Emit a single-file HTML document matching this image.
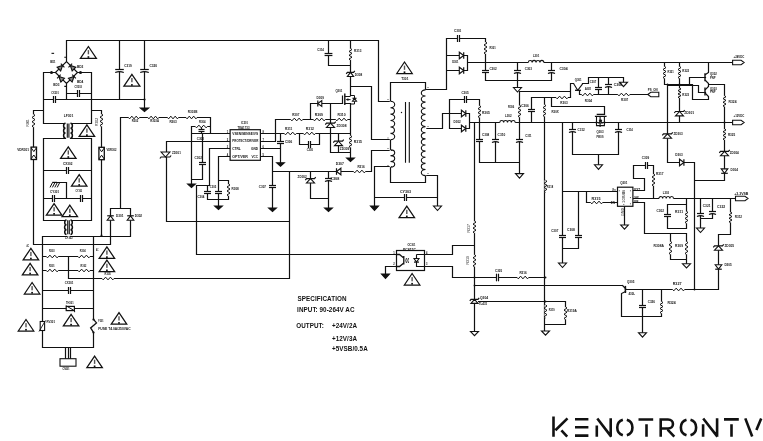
<!DOCTYPE html>
<html><head><meta charset="utf-8"><style>
html,body{margin:0;padding:0;background:#fff;}
#wrap{position:relative;width:763px;height:441px;overflow:hidden;}
svg{display:block;position:absolute;left:0;top:0;}
#tx{will-change:transform;}
text{font-family:"Liberation Sans",sans-serif;fill:#111;}
</style></head><body><div id="wrap">
<svg width="763" height="441" viewBox="0 0 763 441">
<rect width="763" height="441" fill="#fff"/>
<path d="M66.5 61.5 L66.5 40.5 L378.5 40.5 L378.5 101.5 L391.5 101.5 M55.5 72.5 L66.5 61.5 L77.5 72.5 L66.5 83.5 L55.5 72.5 M43.5 72.5 L55.5 72.5 M77.5 72.5 L91.5 72.5 M66.5 83.5 L66.5 99.5 M43.5 72.5 L43.5 123.5 M91.5 72.5 L91.5 123.5 M66.5 93.5 L91.5 93.5 M43.5 99.5 L144.5 99.5 M119.5 40.5 L119.5 99.5 M144.5 40.5 L144.5 108.5 M43.5 123.5 L65.5 123.5 M70.5 123.5 L91.5 123.5 M43.5 138.5 L65.5 138.5 M70.5 138.5 L91.5 138.5 M43.5 110.5 L33.5 110.5 L33.5 244.5 L110.5 244.5 L110.5 208.5 M91.5 110.5 L101.5 110.5 L101.5 236.5 M43.5 138.5 L43.5 220.5 M91.5 138.5 L91.5 220.5 M43.5 220.5 L66.5 220.5 M70.5 220.5 L91.5 220.5 M43.5 170.5 L91.5 170.5 M43.5 198.5 L91.5 198.5 M66.5 198.5 L66.5 182.5 L57.5 182.5 M42.5 236.5 L66.5 236.5 M70.5 236.5 L130.5 236.5 M130.5 208.5 L130.5 236.5 M110.5 208.5 L130.5 208.5 M120.5 117.5 L120.5 208.5 M42.5 236.5 L42.5 347.5 M93.5 236.5 L93.5 347.5 M42.5 256.5 L93.5 256.5 M42.5 270.5 L93.5 270.5 M68.5 256.5 L68.5 278.5 L289.5 278.5 L289.5 171.5 M42.5 290.5 L93.5 290.5 M42.5 308.5 L93.5 308.5 M42.5 347.5 L93.5 347.5 M65.5 347.5 L65.5 358.5 M68.5 347.5 L68.5 358.5 M70.5 347.5 L70.5 358.5 M120.5 117.5 L210.5 117.5 M210.5 117.5 L210.5 133.5 M191.5 126.5 L210.5 126.5 M191.5 126.5 L191.5 184.5 M191.5 179.5 L202.5 179.5 M202.5 133.5 L202.5 179.5 M201.5 126.5 L201.5 133.5 M191.5 133.5 L230.5 133.5 M166.5 141.5 L230.5 141.5 M166.5 141.5 L166.5 221.5 L289.5 221.5 M230.5 148.5 L209.5 148.5 L209.5 185.5 L196.5 185.5 L196.5 254.5 L396.5 254.5 M207.5 185.5 L207.5 199.5 M207.5 199.5 L228.5 199.5 M230.5 156.5 L218.5 156.5 L218.5 206.5 M218.5 180.5 L228.5 180.5 M228.5 180.5 L228.5 199.5 M260.5 133.5 L350.5 133.5 M260.5 141.5 L275.5 141.5 L275.5 119.5 L350.5 119.5 M260.5 148.5 L280.5 148.5 M280.5 133.5 L280.5 162.5 M260.5 156.5 L272.5 156.5 L272.5 208.5 M299.5 133.5 L299.5 144.5 L319.5 144.5 L319.5 133.5 M310.5 119.5 L310.5 103.5 L342.5 103.5 M330.5 103.5 L330.5 152.5 M338.5 133.5 L338.5 152.5 M330.5 152.5 L350.5 152.5 M350.5 103.5 L350.5 158.5 M350.5 40.5 L350.5 95.5 M328.5 40.5 L328.5 65.5 L350.5 65.5 M350.5 86.5 L371.5 86.5 L371.5 139.5 L391.5 139.5 M391.5 150.5 L371.5 150.5 L371.5 171.5 L272.5 171.5 M391.5 166.5 L374.5 166.5 L374.5 206.5 M310.5 171.5 L310.5 198.5 M310.5 198.5 L328.5 198.5 M328.5 171.5 L328.5 208.5 M374.5 197.5 L437.5 197.5 M424.5 175.5 L437.5 175.5 L437.5 206.5 M390.5 101.5 L390.5 82.5 L425.5 82.5 L425.5 89.5 M390.5 139.5 L390.5 150.5 M390.5 167.5 L390.5 182.5 L425.5 182.5 L425.5 175.5 M425.5 89.5 L446.5 89.5 L446.5 38.5 L485.5 38.5 L485.5 79.5 M425.5 128.5 L442.5 128.5 L442.5 113.5 L449.5 113.5 M446.5 55.5 L467.5 55.5 M446.5 70.5 L467.5 70.5 M467.5 55.5 L467.5 70.5 M467.5 62.5 L732.5 62.5 M517.5 62.5 L517.5 87.5 M551.5 62.5 L551.5 80.5 M485.5 80.5 L551.5 80.5 M449.5 99.5 L449.5 128.5 M449.5 99.5 L479.5 99.5 M449.5 128.5 L469.5 128.5 M449.5 113.5 L469.5 113.5 M469.5 113.5 L469.5 128.5 M469.5 122.5 L732.5 122.5 M479.5 99.5 L479.5 162.5 M474.5 122.5 L474.5 331.5 M495.5 122.5 L495.5 162.5 M519.5 91.5 L519.5 173.5 M479.5 162.5 L519.5 162.5 M519.5 91.5 L570.5 91.5 M570.5 97.5 L570.5 83.5 L573.5 83.5 M531.5 97.5 L570.5 97.5 M531.5 97.5 L531.5 122.5 M544.5 97.5 L544.5 331.5 M551.5 97.5 L551.5 106.5 L604.5 106.5 L604.5 114.5 M582.5 83.5 L588.5 83.5 L588.5 77.5 L623.5 77.5 L623.5 82.5 M598.5 77.5 L598.5 94.5 M608.5 77.5 L608.5 94.5 M579.5 90.5 L579.5 94.5 L647.5 94.5 M562.5 122.5 L562.5 248.5 M572.5 122.5 L572.5 154.5 M618.5 122.5 L618.5 154.5 M572.5 154.5 L618.5 154.5 M598.5 154.5 L598.5 164.5 M664.5 62.5 L664.5 84.5 M679.5 62.5 L679.5 122.5 M664.5 84.5 L692.5 84.5 M667.5 85.5 L698.5 85.5 M667.5 84.5 L667.5 162.5 M667.5 162.5 L694.5 162.5 M694.5 162.5 L694.5 289.5 M694.5 180.5 L724.5 180.5 M724.5 84.5 L724.5 180.5 M708.5 84.5 L724.5 84.5 M708.5 62.5 L708.5 72.5 L705.5 74.5 M705.5 80.5 L708.5 83.5 L708.5 84.5 M689.5 84.5 L689.5 77.5 L705.5 77.5 M705.5 89.5 L708.5 86.5 L708.5 84.5 M705.5 93.5 L708.5 96.5 L708.5 99.5 L692.5 99.5 L692.5 84.5 M698.5 85.5 L698.5 92.5 L705.5 92.5 M562.5 191.5 L617.5 191.5 M578.5 191.5 L578.5 248.5 M562.5 248.5 L578.5 248.5 M586.5 191.5 L586.5 202.5 L617.5 202.5 M624.5 206.5 L624.5 225.5 M632.5 190.5 L644.5 190.5 L644.5 178.5 L633.5 178.5 L633.5 165.5 L653.5 165.5 L653.5 198.5 M632.5 198.5 L735.5 198.5 M632.5 202.5 L644.5 202.5 L644.5 233.5 L686.5 233.5 M667.5 204.5 L667.5 228.5 M686.5 198.5 L686.5 228.5 M667.5 204.5 L686.5 204.5 M667.5 228.5 L686.5 228.5 M670.5 233.5 L670.5 259.5 M686.5 233.5 L686.5 263.5 M670.5 259.5 L686.5 259.5 M700.5 198.5 L700.5 228.5 M712.5 198.5 L712.5 218.5 M700.5 218.5 L712.5 218.5 M730.5 198.5 L730.5 234.5 L718.5 234.5 L718.5 289.5 M474.5 277.5 L545.5 277.5 M474.5 285.5 L622.5 285.5 M474.5 301.5 L565.5 301.5 L565.5 324.5 L545.5 324.5 M622.5 285.5 L625.5 288.5 M625.5 291.5 L621.5 293.5 L621.5 316.5 L661.5 316.5 L661.5 289.5 M625.5 289.5 L718.5 289.5 M642.5 289.5 L642.5 332.5 M424.5 254.5 L452.5 254.5 L452.5 245.5 L474.5 245.5 M424.5 266.5 L452.5 266.5 L452.5 277.5 L474.5 277.5 M396.5 266.5 L385.5 266.5 L385.5 274.5 M562.5 248.5 L562.5 263.5" fill="none" stroke="#111" stroke-width="1.2" stroke-linecap="square"/>
<path d="M405.5 102 V162.8 M409.3 102 V162.8" stroke="#111" stroke-width="1.1"/>
<path d="M705 73.3 V81.2 M705 87.5 V95.5" stroke="#111" stroke-width="1.4"/>
<rect x="617.5" y="187.2" width="15.4" height="19.1" fill="#fff" stroke="#111" stroke-width="1.2"/>
<path d="M625.4 285.9 V293" stroke="#111" stroke-width="1.5"/>
<rect x="396.5" y="250.5" width="28" height="20" fill="#fff" stroke="#111" stroke-width="1.2"/>
<g transform="translate(60.75 67.25) rotate(-43.99)"><polygon points="-2.6,-2.6 -2.6,2.6 2.6,0" fill="#888" stroke="#111" stroke-width="1.1"/><path d="M2.6 -2.6 V2.6" stroke="#111" stroke-width="1.1"/></g>
<g transform="translate(72.15 67.25) rotate(-135.51)"><polygon points="-2.6,-2.6 -2.6,2.6 2.6,0" fill="#888" stroke="#111" stroke-width="1.1"/><path d="M2.6 -2.6 V2.6" stroke="#111" stroke-width="1.1"/></g>
<g transform="translate(60.75 78.35) rotate(-136.01)"><polygon points="-2.6,-2.6 -2.6,2.6 2.6,0" fill="#888" stroke="#111" stroke-width="1.1"/><path d="M2.6 -2.6 V2.6" stroke="#111" stroke-width="1.1"/></g>
<g transform="translate(72.15 78.35) rotate(-44.49)"><polygon points="-2.6,-2.6 -2.6,2.6 2.6,0" fill="#888" stroke="#111" stroke-width="1.1"/><path d="M2.6 -2.6 V2.6" stroke="#111" stroke-width="1.1"/></g>
<circle cx="51.5" cy="72.5" r="1.5" fill="#111"/>
<circle cx="80.5" cy="72.5" r="1.5" fill="#111"/>
<path d="M64.3 57.2 H66.5 M64.3 86.4 H66.5" fill="none" stroke="#111" stroke-width="1.1"/>
<rect x="77.5" y="92.5" width="2" height="2" fill="#fff"/>
<path d="M77.5 90 V97" fill="none" stroke="#111" stroke-width="1.2"/>
<path d="M79.5 90 V97" fill="none" stroke="#111" stroke-width="1.2"/>
<rect x="53.5" y="98.5" width="2" height="2" fill="#fff"/>
<path d="M53.5 96 V103" fill="none" stroke="#111" stroke-width="1.2"/>
<path d="M55.5 96 V103" fill="none" stroke="#111" stroke-width="1.2"/>
<rect x="118.5" y="69.5" width="2" height="2" fill="#fff"/>
<path d="M115.2 69.5 H123.8" fill="none" stroke="#111" stroke-width="1.2"/>
<path d="M115.2 72.5 Q119.5 70.6 123.8 72.5" fill="none" stroke="#111" stroke-width="1.2"/>
<rect x="143.5" y="69.5" width="2" height="2" fill="#fff"/>
<path d="M140.2 69.5 H148.8" fill="none" stroke="#111" stroke-width="1.2"/>
<path d="M140.2 72.5 Q144.5 70.6 148.8 72.5" fill="none" stroke="#111" stroke-width="1.2"/>
<polygon points="140.35,108 148.65,108 144.5,111.6" fill="#111" stroke="#111" stroke-width="1.1"/>
<circle cx="144.5" cy="99.5" r="1.1" fill="#111"/>
<polygon points="88.4,46.5 80.4,58.3 96.4,58.3" fill="none" stroke="#111" stroke-width="1.25" stroke-linejoin="miter"/>
<rect x="87.7" y="50.1" width="1.4" height="4.2" fill="#555"/>
<rect x="87.55" y="56.2" width="1.7" height="1.7" fill="#111"/>
<polygon points="131.9,74.4 123.9,86.2 139.9,86.2" fill="none" stroke="#111" stroke-width="1.25" stroke-linejoin="miter"/>
<rect x="131.2" y="78" width="1.4" height="4.2" fill="#555"/>
<rect x="131.05" y="84.1" width="1.7" height="1.7" fill="#111"/>
<rect x="64.7" y="123.3" width="1.6" height="14.7" fill="#fff"/>
<path d="M65.5 123.3 A1.9 2.45 0 0 0 65.5 128.2 A1.9 2.45 0 0 0 65.5 133.1 A1.9 2.45 0 0 0 65.5 138" fill="none" stroke="#111" stroke-width="1.5"/>
<rect x="69.7" y="123.3" width="1.6" height="14.7" fill="#fff"/>
<path d="M70.5 123.3 A1.9 2.45 0 0 1 70.5 128.2 A1.9 2.45 0 0 1 70.5 133.1 A1.9 2.45 0 0 1 70.5 138" fill="none" stroke="#111" stroke-width="1.5"/>
<path d="M67.3 123.5 V137.8 M68.9 123.5 V137.8" stroke="#111" stroke-width="1.1"/>
<rect x="32.5" y="114.2" width="2" height="13" fill="#fff"/>
<path d="M33.5 114.2 L35 115.28 L32 117.45 L35 119.62 L32 121.78 L35 123.95 L32 126.12 L33.5 127.2" fill="none" stroke="#111" stroke-width="1"/>
<rect x="100.5" y="114.05" width="2" height="12.5" fill="#fff"/>
<path d="M101.5 114.05 L103 115.09 L100 117.17 L103 119.26 L100 121.34 L103 123.42 L100 125.51 L101.5 126.55" fill="none" stroke="#111" stroke-width="1"/>
<circle cx="101.5" cy="235.5" r="1" fill="#111"/>
<rect x="31.1" y="147.1" width="5.4" height="12.4" fill="#fff" stroke="#111" stroke-width="1.3"/>
<path d="M31.1 147.7 L33.8 151.6 L36.5 147.7 M31.1 158.9 L33.8 155 L36.5 158.9" fill="none" stroke="#111" stroke-width="1"/>
<rect x="98.9" y="147.3" width="5.4" height="12.4" fill="#fff" stroke="#111" stroke-width="1.3"/>
<path d="M98.9 147.9 L101.6 151.8 L104.3 147.9 M98.9 159.1 L101.6 155.2 L104.3 159.1" fill="none" stroke="#111" stroke-width="1"/>
<rect x="66.5" y="169.5" width="2" height="2" fill="#fff"/>
<path d="M66.5 167 V174" fill="none" stroke="#111" stroke-width="1.2"/>
<path d="M68.5 167 V174" fill="none" stroke="#111" stroke-width="1.2"/>
<rect x="52.5" y="197.5" width="2" height="2" fill="#fff"/>
<path d="M52.5 195 V202" fill="none" stroke="#111" stroke-width="1.2"/>
<path d="M54.5 195 V202" fill="none" stroke="#111" stroke-width="1.2"/>
<rect x="80.5" y="197.5" width="2" height="2" fill="#fff"/>
<path d="M80.5 195 V202" fill="none" stroke="#111" stroke-width="1.2"/>
<path d="M82.5 195 V202" fill="none" stroke="#111" stroke-width="1.2"/>
<path d="M52.3 182.4 H57" fill="none" stroke="#111" stroke-width="1.2"/>
<path d="M52.6 182.4 L50 187.4" fill="none" stroke="#111" stroke-width="1"/>
<path d="M55 182.4 L52.4 187.4" fill="none" stroke="#111" stroke-width="1"/>
<path d="M57.4 182.4 L54.8 187.4" fill="none" stroke="#111" stroke-width="1"/>
<path d="M59.8 182.4 L57.2 187.4" fill="none" stroke="#111" stroke-width="1"/>
<polygon points="68.3,146.8 60.55,158.3 76.05,158.3" fill="none" stroke="#111" stroke-width="1.25" stroke-linejoin="miter"/>
<rect x="67.6" y="150.4" width="1.4" height="4.2" fill="#555"/>
<rect x="67.45" y="156.2" width="1.7" height="1.7" fill="#111"/>
<polygon points="86.9,124.9 79.15,136.4 94.65,136.4" fill="none" stroke="#111" stroke-width="1.25" stroke-linejoin="miter"/>
<rect x="86.2" y="128.5" width="1.4" height="4.2" fill="#555"/>
<rect x="86.05" y="134.3" width="1.7" height="1.7" fill="#111"/>
<polygon points="79.2,174.7 71.45,186.2 86.95,186.2" fill="none" stroke="#111" stroke-width="1.25" stroke-linejoin="miter"/>
<rect x="78.5" y="178.3" width="1.4" height="4.2" fill="#555"/>
<rect x="78.35" y="184.1" width="1.7" height="1.7" fill="#111"/>
<polygon points="54.1,203.6 46.35,215.1 61.85,215.1" fill="none" stroke="#111" stroke-width="1.25" stroke-linejoin="miter"/>
<rect x="53.4" y="207.2" width="1.4" height="4.2" fill="#555"/>
<rect x="53.25" y="213" width="1.7" height="1.7" fill="#111"/>
<polygon points="69.8,205.1 62.05,216.6 77.55,216.6" fill="none" stroke="#111" stroke-width="1.25" stroke-linejoin="miter"/>
<rect x="69.1" y="208.7" width="1.4" height="4.2" fill="#555"/>
<rect x="68.95" y="214.5" width="1.7" height="1.7" fill="#111"/>
<rect x="65.7" y="220" width="1.6" height="14.5" fill="#fff"/>
<path d="M66.5 220 A1.9 2.42 0 0 0 66.5 224.83 A1.9 2.42 0 0 0 66.5 229.67 A1.9 2.42 0 0 0 66.5 234.5" fill="none" stroke="#111" stroke-width="1.5"/>
<rect x="69.7" y="220" width="1.6" height="14.5" fill="#fff"/>
<path d="M70.5 220 A1.9 2.42 0 0 1 70.5 224.83 A1.9 2.42 0 0 1 70.5 229.67 A1.9 2.42 0 0 1 70.5 234.5" fill="none" stroke="#111" stroke-width="1.5"/>
<path d="M67.7 220.3 V234.3 M69.3 220.3 V234.3" stroke="#111" stroke-width="1.1"/>
<rect x="107.2" y="215.8" width="6.6" height="4.4" fill="#fff"/>
<polygon points="107.2,220.2 113.8,220.2 110.5,215.8" fill="#fff" stroke="#111" stroke-width="1.1" stroke-linejoin="miter"/>
<path d="M107.2 215.8 L113.8 215.8" fill="none" stroke="#111" stroke-width="1.2"/>
<rect x="127.2" y="215.8" width="6.6" height="4.4" fill="#fff"/>
<polygon points="127.2,220.2 133.8,220.2 130.5,215.8" fill="#fff" stroke="#111" stroke-width="1.1" stroke-linejoin="miter"/>
<path d="M127.2 215.8 L133.8 215.8" fill="none" stroke="#111" stroke-width="1.2"/>
<rect x="46.3" y="255.5" width="12" height="2" fill="#fff"/>
<path d="M46.3 256.5 L47.5 257.85 L49.9 255.15 L52.3 257.85 L54.7 255.15 L57.1 257.85 L58.3 256.5" fill="none" stroke="#111" stroke-width="1"/>
<rect x="78" y="255.5" width="12" height="2" fill="#fff"/>
<path d="M78 256.5 L79.2 257.85 L81.6 255.15 L84 257.85 L86.4 255.15 L88.8 257.85 L90 256.5" fill="none" stroke="#111" stroke-width="1"/>
<rect x="46.3" y="269.5" width="12" height="2" fill="#fff"/>
<path d="M46.3 270.5 L47.5 271.85 L49.9 269.15 L52.3 271.85 L54.7 269.15 L57.1 271.85 L58.3 270.5" fill="none" stroke="#111" stroke-width="1"/>
<rect x="78" y="269.5" width="12" height="2" fill="#fff"/>
<path d="M78 270.5 L79.2 271.85 L81.6 269.15 L84 271.85 L86.4 269.15 L88.8 271.85 L90 270.5" fill="none" stroke="#111" stroke-width="1"/>
<rect x="102" y="277.5" width="12" height="2" fill="#fff"/>
<path d="M102 278.5 L103.2 279.85 L105.6 277.15 L108 279.85 L110.4 277.15 L112.8 279.85 L114 278.5" fill="none" stroke="#111" stroke-width="1"/>
<rect x="68.5" y="289.5" width="2" height="2" fill="#fff"/>
<path d="M68.5 287 V294" fill="none" stroke="#111" stroke-width="1.2"/>
<path d="M70.5 287 V294" fill="none" stroke="#111" stroke-width="1.2"/>
<rect x="66.2" y="306.4" width="8.2" height="4.2" fill="#fff" stroke="#111" stroke-width="1.2"/>
<path d="M65.8 305.6 L74.6 310.8 V312.2" fill="none" stroke="#111" stroke-width="1"/>
<rect x="40.2" y="321.5" width="4.4" height="9" fill="#fff" stroke="#111" stroke-width="1.1"/>
<path d="M39 331.5 L45.5 320.5" fill="none" stroke="#111" stroke-width="0.9"/>
<rect x="92.4" y="319.5" width="2.2" height="12.8" fill="#fff"/>
<path d="M93.5 319.4 L96.5 322.9 L90.6 327.9 L93.5 332.4" fill="none" stroke="#111" stroke-width="1.3"/>
<circle cx="93.5" cy="319.5" r="1.1" fill="#111"/>
<circle cx="93.5" cy="332.5" r="1.1" fill="#111"/>
<rect x="60" y="358.7" width="16" height="7.5" fill="#fff" stroke="#111" stroke-width="1.1"/>
<polygon points="30.9,248.3 23.15,259.8 38.65,259.8" fill="none" stroke="#111" stroke-width="1.25" stroke-linejoin="miter"/>
<rect x="30.2" y="251.9" width="1.4" height="4.2" fill="#555"/>
<rect x="30.05" y="257.7" width="1.7" height="1.7" fill="#111"/>
<polygon points="30.1,263.3 22.35,274.8 37.85,274.8" fill="none" stroke="#111" stroke-width="1.25" stroke-linejoin="miter"/>
<rect x="29.4" y="266.9" width="1.4" height="4.2" fill="#555"/>
<rect x="29.25" y="272.7" width="1.7" height="1.7" fill="#111"/>
<polygon points="32.1,282.5 24.35,294 39.85,294" fill="none" stroke="#111" stroke-width="1.25" stroke-linejoin="miter"/>
<rect x="31.4" y="286.1" width="1.4" height="4.2" fill="#555"/>
<rect x="31.25" y="291.9" width="1.7" height="1.7" fill="#111"/>
<polygon points="106.9,246.9 99.15,258.4 114.65,258.4" fill="none" stroke="#111" stroke-width="1.25" stroke-linejoin="miter"/>
<rect x="106.2" y="250.5" width="1.4" height="4.2" fill="#555"/>
<rect x="106.05" y="256.3" width="1.7" height="1.7" fill="#111"/>
<polygon points="106.9,260.1 99.15,271.6 114.65,271.6" fill="none" stroke="#111" stroke-width="1.25" stroke-linejoin="miter"/>
<rect x="106.2" y="263.7" width="1.4" height="4.2" fill="#555"/>
<rect x="106.05" y="269.5" width="1.7" height="1.7" fill="#111"/>
<polygon points="26,319.5 18.25,331 33.75,331" fill="none" stroke="#111" stroke-width="1.25" stroke-linejoin="miter"/>
<rect x="25.3" y="323.1" width="1.4" height="4.2" fill="#555"/>
<rect x="25.15" y="328.9" width="1.7" height="1.7" fill="#111"/>
<polygon points="71.1,314.4 63.35,325.9 78.85,325.9" fill="none" stroke="#111" stroke-width="1.25" stroke-linejoin="miter"/>
<rect x="70.4" y="318" width="1.4" height="4.2" fill="#555"/>
<rect x="70.25" y="323.8" width="1.7" height="1.7" fill="#111"/>
<polygon points="119,312.7 111.25,324.2 126.75,324.2" fill="none" stroke="#111" stroke-width="1.25" stroke-linejoin="miter"/>
<rect x="118.3" y="316.3" width="1.4" height="4.2" fill="#555"/>
<rect x="118.15" y="322.1" width="1.7" height="1.7" fill="#111"/>
<polygon points="94.6,356.1 86.85,367.6 102.35,367.6" fill="none" stroke="#111" stroke-width="1.25" stroke-linejoin="miter"/>
<rect x="93.9" y="359.7" width="1.4" height="4.2" fill="#555"/>
<rect x="93.75" y="365.5" width="1.7" height="1.7" fill="#111"/>
<rect x="128.5" y="116.5" width="11" height="2" fill="#fff"/>
<path d="M128.5 117.5 L129.6 118.85 L131.8 116.15 L134 118.85 L136.2 116.15 L138.4 118.85 L139.5 117.5" fill="none" stroke="#111" stroke-width="1"/>
<rect x="147.8" y="116.5" width="11" height="2" fill="#fff"/>
<path d="M147.8 117.5 L148.9 118.85 L151.1 116.15 L153.3 118.85 L155.5 116.15 L157.7 118.85 L158.8 117.5" fill="none" stroke="#111" stroke-width="1"/>
<rect x="167.5" y="116.5" width="11" height="2" fill="#fff"/>
<path d="M167.5 117.5 L168.6 118.85 L170.8 116.15 L173 118.85 L175.2 116.15 L177.4 118.85 L178.5 117.5" fill="none" stroke="#111" stroke-width="1"/>
<rect x="186" y="116.5" width="11" height="2" fill="#fff"/>
<path d="M186 117.5 L187.1 118.85 L189.3 116.15 L191.5 118.85 L193.7 116.15 L195.9 118.85 L197 117.5" fill="none" stroke="#111" stroke-width="1"/>
<rect x="195.3" y="125.5" width="12" height="2" fill="#fff"/>
<path d="M195.3 126.5 L196.5 127.85 L198.9 125.15 L201.3 127.85 L203.7 125.15 L206.1 127.85 L207.3 126.5" fill="none" stroke="#111" stroke-width="1"/>
<polygon points="187.65,184 195.35,184 191.5,187.5" fill="#111" stroke="#111" stroke-width="1.1"/>
<rect x="200.5" y="129.5" width="2" height="2" fill="#fff"/>
<path d="M198.5 129.5 H204.5" fill="none" stroke="#111" stroke-width="1.2"/>
<path d="M198.5 131.5 H204.5" fill="none" stroke="#111" stroke-width="1.2"/>
<rect x="201.5" y="162.5" width="2" height="2" fill="#fff"/>
<path d="M199 162.5 H206" fill="none" stroke="#111" stroke-width="1.2"/>
<path d="M199 164.5 H206" fill="none" stroke="#111" stroke-width="1.2"/>
<rect x="161.1" y="152" width="8.8" height="5" fill="#fff"/>
<polygon points="161.1,152 169.9,152 165.5,157" fill="#fff" stroke="#111" stroke-width="1.1" stroke-linejoin="miter"/>
<path d="M159.9 158.5 L161.1 157 L169.9 157 L171.1 155.5" fill="none" stroke="#111" stroke-width="1.2"/>
<rect x="206.5" y="191.5" width="2" height="2" fill="#fff"/>
<path d="M204 191.5 H211" fill="none" stroke="#111" stroke-width="1.2"/>
<path d="M204 193.5 H211" fill="none" stroke="#111" stroke-width="1.2"/>
<rect x="217.5" y="191.5" width="2" height="2" fill="#fff"/>
<path d="M215 191.5 H222" fill="none" stroke="#111" stroke-width="1.2"/>
<path d="M215 193.5 H222" fill="none" stroke="#111" stroke-width="1.2"/>
<polygon points="214.65,206 222.35,206 218.5,209.5" fill="#111" stroke="#111" stroke-width="1.1"/>
<rect x="227.5" y="184" width="2" height="12" fill="#fff"/>
<path d="M228.5 184 L230 185 L227 187 L230 189 L227 191 L230 193 L227 195 L228.5 196" fill="none" stroke="#111" stroke-width="1"/>
<rect x="230.1" y="129.7" width="30.3" height="30.6" fill="#fff" stroke="#111" stroke-width="1.2"/>
<rect x="284.3" y="132.5" width="12" height="2" fill="#fff"/>
<path d="M284.3 133.5 L285.5 134.85 L287.9 132.15 L290.3 134.85 L292.7 132.15 L295.1 134.85 L296.3 133.5" fill="none" stroke="#111" stroke-width="1"/>
<rect x="303.4" y="132.5" width="12" height="2" fill="#fff"/>
<path d="M303.4 133.5 L304.6 134.85 L307 132.15 L309.4 134.85 L311.8 132.15 L314.2 134.85 L315.4 133.5" fill="none" stroke="#111" stroke-width="1"/>
<rect x="308.5" y="143.5" width="2" height="2" fill="#fff"/>
<path d="M308.5 141 V148" fill="none" stroke="#111" stroke-width="1.2"/>
<path d="M310.5 141 V148" fill="none" stroke="#111" stroke-width="1.2"/>
<rect x="279.5" y="141.5" width="2" height="2" fill="#fff"/>
<path d="M277 141.5 H284" fill="none" stroke="#111" stroke-width="1.2"/>
<path d="M277 143.5 H284" fill="none" stroke="#111" stroke-width="1.2"/>
<polygon points="276.65,162.7 284.35,162.7 280.5,166.2" fill="#111" stroke="#111" stroke-width="1.1"/>
<rect x="271.5" y="185.5" width="2" height="2" fill="#fff"/>
<path d="M269 185.5 H276" fill="none" stroke="#111" stroke-width="1.2"/>
<path d="M269 187.5 H276" fill="none" stroke="#111" stroke-width="1.2"/>
<polygon points="268.65,208 276.35,208 272.5,211.5" fill="#111" stroke="#111" stroke-width="1.1"/>
<rect x="290.7" y="118.5" width="12" height="2" fill="#fff"/>
<path d="M290.7 119.5 L291.9 120.85 L294.3 118.15 L296.7 120.85 L299.1 118.15 L301.5 120.85 L302.7 119.5" fill="none" stroke="#111" stroke-width="1"/>
<rect x="313.3" y="118.5" width="12" height="2" fill="#fff"/>
<path d="M313.3 119.5 L314.5 120.85 L316.9 118.15 L319.3 120.85 L321.7 118.15 L324.1 120.85 L325.3 119.5" fill="none" stroke="#111" stroke-width="1"/>
<rect x="335.6" y="118.5" width="12" height="2" fill="#fff"/>
<path d="M335.6 119.5 L336.8 120.85 L339.2 118.15 L341.6 120.85 L344 118.15 L346.4 120.85 L347.6 119.5" fill="none" stroke="#111" stroke-width="1"/>
<rect x="317.8" y="100.6" width="4" height="5.8" fill="#fff"/>
<polygon points="321.8,100.6 321.8,106.4 317.8,103.5" fill="#fff" stroke="#111" stroke-width="1.1" stroke-linejoin="miter"/>
<path d="M317.8 100.6 L317.8 106.4" fill="none" stroke="#111" stroke-width="1.2"/>
<rect x="326.5" y="123.1" width="8" height="4.4" fill="#fff"/>
<polygon points="326.5,127.5 334.5,127.5 330.5,123.1" fill="#fff" stroke="#111" stroke-width="1.1" stroke-linejoin="miter"/>
<path d="M325.3 124.6 L326.5 123.1 L334.5 123.1 L335.7 121.6" fill="none" stroke="#111" stroke-width="1.2"/>
<rect x="334.5" y="141.2" width="8" height="4.4" fill="#fff"/>
<polygon points="334.5,145.6 342.5,145.6 338.5,141.2" fill="#fff" stroke="#111" stroke-width="1.1" stroke-linejoin="miter"/>
<path d="M333.3 142.7 L334.5 141.2 L342.5 141.2 L343.7 139.7" fill="none" stroke="#111" stroke-width="1.2"/>
<rect x="349.5" y="135.6" width="2" height="12" fill="#fff"/>
<path d="M350.5 135.6 L352 136.6 L349 138.6 L352 140.6 L349 142.6 L352 144.6 L349 146.6 L350.5 147.6" fill="none" stroke="#111" stroke-width="1"/>
<polygon points="346.65,158 354.35,158 350.5,161.5" fill="#111" stroke="#111" stroke-width="1.1"/>
<path d="M342.5 95.5 V103.5" fill="none" stroke="#111" stroke-width="1.2"/>
<path d="M344.8 93.6 V105" fill="none" stroke="#111" stroke-width="1.4"/>
<path d="M344.8 96.5 H350.5 M344.8 103.5 H350.5" fill="none" stroke="#111" stroke-width="1.2"/>
<polygon points="345.6,99.6 348.4,98.2 348.4,101" fill="#111"/>
<path d="M348 99.6 H350.5" fill="none" stroke="#111" stroke-width="1"/>
<path d="M350.5 95.5 H354.5 V104 H350.5" fill="none" stroke="#111" stroke-width="1"/>
<rect x="352.5" y="98.3" width="4" height="3" fill="#fff"/>
<polygon points="352.5,101.3 356.5,101.3 354.5,98.3" fill="#fff" stroke="#111" stroke-width="1.1" stroke-linejoin="miter"/>
<path d="M352.5 98.3 L356.5 98.3" fill="none" stroke="#111" stroke-width="1.2"/>
<rect x="349.5" y="48.55" width="2" height="11.5" fill="#fff"/>
<path d="M350.5 48.55 L352 49.51 L349 51.42 L352 53.34 L349 55.26 L352 57.17 L349 59.09 L350.5 60.05" fill="none" stroke="#111" stroke-width="1"/>
<rect x="347.4" y="72.3" width="6.2" height="4.2" fill="#fff"/>
<polygon points="347.4,76.5 353.6,76.5 350.5,72.3" fill="#fff" stroke="#111" stroke-width="1.1" stroke-linejoin="miter"/>
<path d="M346.2 73.8 L347.4 72.3 L353.6 72.3 L354.8 70.8" fill="none" stroke="#111" stroke-width="1.2"/>
<rect x="327.5" y="53.5" width="2" height="2" fill="#fff"/>
<path d="M324.6 53.5 H332.4" fill="none" stroke="#111" stroke-width="1.2"/>
<path d="M324.6 55.5 H332.4" fill="none" stroke="#111" stroke-width="1.2"/>
<rect x="336.5" y="168.2" width="4.4" height="6.6" fill="#fff"/>
<polygon points="340.9,168.2 340.9,174.8 336.5,171.5" fill="#fff" stroke="#111" stroke-width="1.1" stroke-linejoin="miter"/>
<path d="M336.5 168.2 L336.5 174.8" fill="none" stroke="#111" stroke-width="1.2"/>
<rect x="353.5" y="170.5" width="12" height="2" fill="#fff"/>
<path d="M353.5 171.5 L354.7 172.85 L357.1 170.15 L359.5 172.85 L361.9 170.15 L364.3 172.85 L365.5 171.5" fill="none" stroke="#111" stroke-width="1"/>
<rect x="306.5" y="178.6" width="8" height="4.4" fill="#fff"/>
<polygon points="306.5,183 314.5,183 310.5,178.6" fill="#fff" stroke="#111" stroke-width="1.1" stroke-linejoin="miter"/>
<path d="M305.3 180.1 L306.5 178.6 L314.5 178.6 L315.7 177.1" fill="none" stroke="#111" stroke-width="1.2"/>
<rect x="327.5" y="178.5" width="2" height="2" fill="#fff"/>
<path d="M325 178.5 H332" fill="none" stroke="#111" stroke-width="1.2"/>
<path d="M325 181.5 Q328.5 179.6 332 181.5" fill="none" stroke="#111" stroke-width="1.2"/>
<polygon points="324.65,208 332.35,208 328.5,211.5" fill="#111" stroke="#111" stroke-width="1.1"/>
<polygon points="370.5,206 378.5,206 374.5,210.5" fill="#111" stroke="#111" stroke-width="1.1"/>
<polygon points="433.5,206 441.5,206 437.5,210.5" fill="#fff" stroke="#111" stroke-width="1.1"/>
<rect x="404.5" y="196.5" width="2" height="2" fill="#fff"/>
<path d="M404.5 194 V201" fill="none" stroke="#111" stroke-width="1.2"/>
<path d="M406.5 194 V201" fill="none" stroke="#111" stroke-width="1.2"/>
<polygon points="406.8,206.2 399.05,217.7 414.55,217.7" fill="none" stroke="#111" stroke-width="1.25" stroke-linejoin="miter"/>
<rect x="406.1" y="209.8" width="1.4" height="4.2" fill="#555"/>
<rect x="405.95" y="215.6" width="1.7" height="1.7" fill="#111"/>
<polygon points="412.1,273.5 404.35,285 419.85,285" fill="none" stroke="#111" stroke-width="1.25" stroke-linejoin="miter"/>
<rect x="411.4" y="277.1" width="1.4" height="4.2" fill="#555"/>
<rect x="411.25" y="282.9" width="1.7" height="1.7" fill="#111"/>
<rect x="389.7" y="101.3" width="1.6" height="38.5" fill="#fff"/>
<path d="M390.5 101.3 A4.2 3.21 0 0 1 390.5 107.72 A4.2 3.21 0 0 1 390.5 114.13 A4.2 3.21 0 0 1 390.5 120.55 A4.2 3.21 0 0 1 390.5 126.97 A4.2 3.21 0 0 1 390.5 133.38 A4.2 3.21 0 0 1 390.5 139.8" fill="none" stroke="#111" stroke-width="1.1"/>
<rect x="389.7" y="149.9" width="1.6" height="17.3" fill="#fff"/>
<path d="M390.5 149.9 A4.2 2.88 0 0 1 390.5 155.67 A4.2 2.88 0 0 1 390.5 161.43 A4.2 2.88 0 0 1 390.5 167.2" fill="none" stroke="#111" stroke-width="1.1"/>
<rect x="424.7" y="89.9" width="1.6" height="85.7" fill="#fff"/>
<path d="M425.5 89.9 A4.2 3.06 0 0 0 425.5 96.02 A4.2 3.06 0 0 0 425.5 102.14 A4.2 3.06 0 0 0 425.5 108.26 A4.2 3.06 0 0 0 425.5 114.39 A4.2 3.06 0 0 0 425.5 120.51 A4.2 3.06 0 0 0 425.5 126.63 A4.2 3.06 0 0 0 425.5 132.75 A4.2 3.06 0 0 0 425.5 138.87 A4.2 3.06 0 0 0 425.5 144.99 A4.2 3.06 0 0 0 425.5 151.11 A4.2 3.06 0 0 0 425.5 157.24 A4.2 3.06 0 0 0 425.5 163.36 A4.2 3.06 0 0 0 425.5 169.48 A4.2 3.06 0 0 0 425.5 175.6" fill="none" stroke="#111" stroke-width="1.1"/>
<polygon points="404.5,62 396.75,73.5 412.25,73.5" fill="none" stroke="#111" stroke-width="1.25" stroke-linejoin="miter"/>
<rect x="403.8" y="65.6" width="1.4" height="4.2" fill="#555"/>
<rect x="403.65" y="71.4" width="1.7" height="1.7" fill="#111"/>
<rect x="457.5" y="37.5" width="2" height="2" fill="#fff"/>
<path d="M457.5 35 V42" fill="none" stroke="#111" stroke-width="1.2"/>
<path d="M459.5 35 V42" fill="none" stroke="#111" stroke-width="1.2"/>
<rect x="464.5" y="98.5" width="2" height="2" fill="#fff"/>
<path d="M464.5 96 V103" fill="none" stroke="#111" stroke-width="1.2"/>
<path d="M466.5 96 V103" fill="none" stroke="#111" stroke-width="1.2"/>
<rect x="459.3" y="52.2" width="4.4" height="6.6" fill="#fff"/>
<polygon points="459.3,52.2 459.3,58.8 463.7,55.5" fill="#fff" stroke="#111" stroke-width="1.1" stroke-linejoin="miter"/>
<path d="M463.7 52.2 L463.7 58.8" fill="none" stroke="#111" stroke-width="1.2"/>
<rect x="459.3" y="67.2" width="4.4" height="6.6" fill="#fff"/>
<polygon points="459.3,67.2 459.3,73.8 463.7,70.5" fill="#fff" stroke="#111" stroke-width="1.1" stroke-linejoin="miter"/>
<path d="M463.7 67.2 L463.7 73.8" fill="none" stroke="#111" stroke-width="1.2"/>
<rect x="461.4" y="110.2" width="4.4" height="6.6" fill="#fff"/>
<polygon points="461.4,110.2 461.4,116.8 465.8,113.5" fill="#fff" stroke="#111" stroke-width="1.1" stroke-linejoin="miter"/>
<path d="M465.8 110.2 L465.8 116.8" fill="none" stroke="#111" stroke-width="1.2"/>
<rect x="461.4" y="125.2" width="4.4" height="6.6" fill="#fff"/>
<polygon points="461.4,125.2 461.4,131.8 465.8,128.5" fill="#fff" stroke="#111" stroke-width="1.1" stroke-linejoin="miter"/>
<path d="M465.8 125.2 L465.8 131.8" fill="none" stroke="#111" stroke-width="1.2"/>
<rect x="484.5" y="42" width="2" height="12" fill="#fff"/>
<path d="M485.5 42 L487 43 L484 45 L487 47 L484 49 L487 51 L484 53 L485.5 54" fill="none" stroke="#111" stroke-width="1"/>
<rect x="478.5" y="105.7" width="2" height="12" fill="#fff"/>
<path d="M479.5 105.7 L481 106.7 L478 108.7 L481 110.7 L478 112.7 L481 114.7 L478 116.7 L479.5 117.7" fill="none" stroke="#111" stroke-width="1"/>
<rect x="484.5" y="70.5" width="2" height="2" fill="#fff"/>
<path d="M482 70.5 H489" fill="none" stroke="#111" stroke-width="1.2"/>
<path d="M482 72.5 H489" fill="none" stroke="#111" stroke-width="1.2"/>
<rect x="516.5" y="70.5" width="2" height="2" fill="#fff"/>
<path d="M514 70.5 H521" fill="none" stroke="#111" stroke-width="1.2"/>
<path d="M514 73.5 Q517.5 71.6 521 73.5" fill="none" stroke="#111" stroke-width="1.2"/>
<rect x="550.5" y="70.5" width="2" height="2" fill="#fff"/>
<path d="M548 70.5 H555" fill="none" stroke="#111" stroke-width="1.2"/>
<path d="M548 73.5 Q551.5 71.6 555 73.5" fill="none" stroke="#111" stroke-width="1.2"/>
<polygon points="513.5,87.5 521.5,87.5 517.5,92" fill="#fff" stroke="#111" stroke-width="1.1"/>
<rect x="528.3" y="61.7" width="15.5" height="1.6" fill="#fff"/>
<path d="M528.3 62.5 A1.94 2.13 0 0 1 532.17 62.5 A1.94 2.13 0 0 1 536.05 62.5 A1.94 2.13 0 0 1 539.92 62.5 A1.94 2.13 0 0 1 543.8 62.5" fill="none" stroke="#111" stroke-width="1.1"/>
<rect x="499.8" y="121.7" width="15.4" height="1.6" fill="#fff"/>
<path d="M499.8 122.5 A1.93 2.12 0 0 1 503.65 122.5 A1.93 2.12 0 0 1 507.5 122.5 A1.93 2.12 0 0 1 511.35 122.5 A1.93 2.12 0 0 1 515.2 122.5" fill="none" stroke="#111" stroke-width="1.1"/>
<rect x="478.5" y="139.5" width="2" height="2" fill="#fff"/>
<path d="M476 139.5 H483" fill="none" stroke="#111" stroke-width="1.2"/>
<path d="M476 141.5 H483" fill="none" stroke="#111" stroke-width="1.2"/>
<rect x="494.5" y="139.5" width="2" height="2" fill="#fff"/>
<path d="M492 139.5 H499" fill="none" stroke="#111" stroke-width="1.2"/>
<path d="M492 142.5 Q495.5 140.6 499 142.5" fill="none" stroke="#111" stroke-width="1.2"/>
<rect x="518.5" y="139.5" width="2" height="2" fill="#fff"/>
<path d="M516 139.5 H523" fill="none" stroke="#111" stroke-width="1.2"/>
<path d="M516 142.5 Q519.5 140.6 523 142.5" fill="none" stroke="#111" stroke-width="1.2"/>
<polygon points="515.5,173.6 523.5,173.6 519.5,178.1" fill="#fff" stroke="#111" stroke-width="1.1"/>
<rect x="518.5" y="105.3" width="2" height="12" fill="#fff"/>
<path d="M519.5 105.3 L521 106.3 L518 108.3 L521 110.3 L518 112.3 L521 114.3 L518 116.3 L519.5 117.3" fill="none" stroke="#111" stroke-width="1"/>
<rect x="530.5" y="109.5" width="2" height="2" fill="#fff"/>
<path d="M528 109.5 H535" fill="none" stroke="#111" stroke-width="1.2"/>
<path d="M528 111.5 H535" fill="none" stroke="#111" stroke-width="1.2"/>
<rect x="543.5" y="104.6" width="2" height="12" fill="#fff"/>
<path d="M544.5 104.6 L546 105.6 L543 107.6 L546 109.6 L543 111.6 L546 113.6 L543 115.6 L544.5 116.6" fill="none" stroke="#111" stroke-width="1"/>
<rect x="556" y="96.5" width="12" height="2" fill="#fff"/>
<path d="M556 97.5 L557.2 98.85 L559.6 96.15 L562 98.85 L564.4 96.15 L566.8 98.85 L568 97.5" fill="none" stroke="#111" stroke-width="1"/>
<path d="M573.7 83.8 L577.7 90.3 L582.6 83.8" fill="none" stroke="#111" stroke-width="1.1"/>
<path d="M575 90.3 H581" fill="none" stroke="#111" stroke-width="1.3"/>
<rect x="581.5" y="93.5" width="12" height="2" fill="#fff"/>
<path d="M581.5 94.5 L582.7 95.85 L585.1 93.15 L587.5 95.85 L589.9 93.15 L592.3 95.85 L593.5 94.5" fill="none" stroke="#111" stroke-width="1"/>
<rect x="597.5" y="87.5" width="2" height="2" fill="#fff"/>
<path d="M595 87.5 H602" fill="none" stroke="#111" stroke-width="1.2"/>
<path d="M595 89.5 H602" fill="none" stroke="#111" stroke-width="1.2"/>
<rect x="607.5" y="84.5" width="2" height="2" fill="#fff"/>
<path d="M605 84.5 H612" fill="none" stroke="#111" stroke-width="1.2"/>
<path d="M605 87.5 Q608.5 85.6 612 87.5" fill="none" stroke="#111" stroke-width="1.2"/>
<polygon points="619.5,82.2 627.5,82.2 623.5,86.7" fill="#fff" stroke="#111" stroke-width="1.1"/>
<rect x="617.8" y="93.5" width="12" height="2" fill="#fff"/>
<path d="M617.8 94.5 L619 95.85 L621.4 93.15 L623.8 95.85 L626.2 93.15 L628.6 95.85 L629.8 94.5" fill="none" stroke="#111" stroke-width="1"/>
<path d="M647.8 94.5 L650.8 92.25 H658.8 V96.75 H650.8 Z" fill="#fff" stroke="#111" stroke-width="1.1"/>
<path d="M596.7 114.4 H604.4 M594.9 116.3 H606.6" fill="none" stroke="#111" stroke-width="1.2"/>
<path d="M596.5 116.3 V125.6 H604.4 V116.3" fill="none" stroke="#111" stroke-width="1.1"/>
<path d="M600.1 116.3 V127" fill="none" stroke="#111" stroke-width="1.1"/>
<rect x="598.9" y="120.3" width="3.2" height="2.6" fill="#fff"/>
<polygon points="598.9,122.9 602.1,122.9 600.5,120.3" fill="#fff" stroke="#111" stroke-width="1.1" stroke-linejoin="miter"/>
<path d="M598.9 120.3 L602.1 120.3" fill="none" stroke="#111" stroke-width="1.2"/>
<circle cx="596.5" cy="122.5" r="1.1" fill="#111"/>
<circle cx="604.5" cy="122.5" r="1.1" fill="#111"/>
<rect x="571.5" y="129.5" width="2" height="2" fill="#fff"/>
<path d="M569 129.5 H576" fill="none" stroke="#111" stroke-width="1.2"/>
<path d="M569 132.5 Q572.5 130.6 576 132.5" fill="none" stroke="#111" stroke-width="1.2"/>
<rect x="617.5" y="129.5" width="2" height="2" fill="#fff"/>
<path d="M615 129.5 H622" fill="none" stroke="#111" stroke-width="1.2"/>
<path d="M615 132.5 Q618.5 130.6 622 132.5" fill="none" stroke="#111" stroke-width="1.2"/>
<polygon points="594.5,164.8 602.5,164.8 598.5,169.4" fill="#fff" stroke="#111" stroke-width="1.1"/>
<path d="M732.6 60.25 H741.1 L744.1 62.5 L741.1 64.75 H732.6 Z" fill="#fff" stroke="#111" stroke-width="1.1"/>
<path d="M732.6 120.25 H741.1 L744.1 122.5 L741.1 124.75 H732.6 Z" fill="#fff" stroke="#111" stroke-width="1.1"/>
<path d="M735.5 196.25 H745 L748 198.5 L745 200.75 H735.5 Z" fill="#fff" stroke="#111" stroke-width="1.1"/>
<rect x="663.5" y="66.5" width="2" height="12" fill="#fff"/>
<path d="M664.5 66.5 L666 67.5 L663 69.5 L666 71.5 L663 73.5 L666 75.5 L663 77.5 L664.5 78.5" fill="none" stroke="#111" stroke-width="1"/>
<rect x="678.5" y="66.5" width="2" height="12" fill="#fff"/>
<path d="M679.5 66.5 L681 67.5 L678 69.5 L681 71.5 L678 73.5 L681 75.5 L678 77.5 L679.5 78.5" fill="none" stroke="#111" stroke-width="1"/>
<rect x="678.5" y="88.1" width="2" height="10" fill="#fff"/>
<path d="M679.5 88.1 L681 88.93 L678 90.6 L681 92.27 L678 93.93 L681 95.6 L678 97.27 L679.5 98.1" fill="none" stroke="#111" stroke-width="1"/>
<rect x="675.5" y="111.5" width="8" height="4.4" fill="#fff"/>
<polygon points="675.5,115.9 683.5,115.9 679.5,111.5" fill="#fff" stroke="#111" stroke-width="1.1" stroke-linejoin="miter"/>
<path d="M674.3 113 L675.5 111.5 L683.5 111.5 L684.7 110" fill="none" stroke="#111" stroke-width="1.2"/>
<rect x="663.5" y="133.8" width="8" height="4.4" fill="#fff"/>
<polygon points="663.5,138.2 671.5,138.2 667.5,133.8" fill="#fff" stroke="#111" stroke-width="1.1" stroke-linejoin="miter"/>
<path d="M662.3 135.3 L663.5 133.8 L671.5 133.8 L672.7 132.3" fill="none" stroke="#111" stroke-width="1.2"/>
<rect x="679.5" y="159.2" width="4.4" height="6.6" fill="#fff"/>
<polygon points="679.5,159.2 679.5,165.8 683.9,162.5" fill="#fff" stroke="#111" stroke-width="1.1" stroke-linejoin="miter"/>
<path d="M683.9 159.2 L683.9 165.8" fill="none" stroke="#111" stroke-width="1.2"/>
<rect x="723.5" y="95.8" width="2" height="11" fill="#fff"/>
<path d="M724.5 95.8 L726 96.72 L723 98.55 L726 100.38 L723 102.22 L726 104.05 L723 105.88 L724.5 106.8" fill="none" stroke="#111" stroke-width="1"/>
<rect x="723.5" y="129" width="2" height="11" fill="#fff"/>
<path d="M724.5 129 L726 129.92 L723 131.75 L726 133.58 L723 135.42 L726 137.25 L723 139.08 L724.5 140" fill="none" stroke="#111" stroke-width="1"/>
<rect x="720.5" y="151.3" width="8" height="4.4" fill="#fff"/>
<polygon points="720.5,155.7 728.5,155.7 724.5,151.3" fill="#fff" stroke="#111" stroke-width="1.1" stroke-linejoin="miter"/>
<path d="M719.3 152.8 L720.5 151.3 L728.5 151.3 L729.7 149.8" fill="none" stroke="#111" stroke-width="1.2"/>
<rect x="721.2" y="168.9" width="6.6" height="4.4" fill="#fff"/>
<polygon points="721.2,168.9 727.8,168.9 724.5,173.3" fill="#fff" stroke="#111" stroke-width="1.1" stroke-linejoin="miter"/>
<path d="M721.2 173.3 L727.8 173.3" fill="none" stroke="#111" stroke-width="1.2"/>
<circle cx="679.5" cy="84.5" r="0.9" fill="#111"/>
<circle cx="667.5" cy="84.5" r="0.9" fill="#111"/>
<circle cx="724.5" cy="122.5" r="0.9" fill="#111"/>
<circle cx="694.5" cy="289.5" r="0.9" fill="#111"/>
<circle cx="545.5" cy="277.5" r="0.9" fill="#111"/>
<circle cx="545.5" cy="301.5" r="0.9" fill="#111"/>
<circle cx="474.5" cy="277.5" r="0.9" fill="#111"/>
<circle cx="474.5" cy="285.5" r="0.9" fill="#111"/>
<rect x="544.5" y="180.3" width="2" height="12" fill="#fff"/>
<path d="M545.5 180.3 L547 181.3 L544 183.3 L547 185.3 L544 187.3 L547 189.3 L544 191.3 L545.5 192.3" fill="none" stroke="#111" stroke-width="1"/>
<rect x="561.5" y="235.5" width="2" height="2" fill="#fff"/>
<path d="M559 235.5 H566" fill="none" stroke="#111" stroke-width="1.2"/>
<path d="M559 237.5 H566" fill="none" stroke="#111" stroke-width="1.2"/>
<rect x="577.5" y="235.5" width="2" height="2" fill="#fff"/>
<path d="M575 235.5 H582" fill="none" stroke="#111" stroke-width="1.2"/>
<path d="M575 237.5 H582" fill="none" stroke="#111" stroke-width="1.2"/>
<polygon points="558.5,263 566.5,263 562.5,267.5" fill="#fff" stroke="#111" stroke-width="1.1"/>
<rect x="590.6" y="201.5" width="12" height="2" fill="#fff"/>
<path d="M590.6 202.5 L591.8 203.85 L594.2 201.15 L596.6 203.85 L599 201.15 L601.4 203.85 L602.6 202.5" fill="none" stroke="#111" stroke-width="1"/>
<polygon points="620.7,225 628.3,225 624.5,229.2" fill="#fff" stroke="#111" stroke-width="1.1"/>
<rect x="618.85" y="190.35" width="0.9" height="0.9" fill="#333"/>
<rect x="629.95" y="190.35" width="0.9" height="0.9" fill="#333"/>
<rect x="629.95" y="197.15" width="0.9" height="0.9" fill="#333"/>
<rect x="629.95" y="203.35" width="0.9" height="0.9" fill="#333"/>
<rect x="623.35" y="203.95" width="0.9" height="0.9" fill="#333"/>
<rect x="645.5" y="164.5" width="2" height="2" fill="#fff"/>
<path d="M645.5 162 V169" fill="none" stroke="#111" stroke-width="1.2"/>
<path d="M647.5 162 V169" fill="none" stroke="#111" stroke-width="1.2"/>
<rect x="652.5" y="174" width="2" height="12" fill="#fff"/>
<path d="M653.5 174 L655 175 L652 177 L655 179 L652 181 L655 183 L652 185 L653.5 186" fill="none" stroke="#111" stroke-width="1"/>
<rect x="659" y="197.7" width="14.5" height="1.6" fill="#fff"/>
<path d="M659 198.5 A1.81 1.99 0 0 1 662.62 198.5 A1.81 1.99 0 0 1 666.25 198.5 A1.81 1.99 0 0 1 669.88 198.5 A1.81 1.99 0 0 1 673.5 198.5" fill="none" stroke="#111" stroke-width="1.1"/>
<rect x="666.5" y="214.5" width="2" height="2" fill="#fff"/>
<path d="M664 214.5 H671" fill="none" stroke="#111" stroke-width="1.2"/>
<path d="M664 216.5 H671" fill="none" stroke="#111" stroke-width="1.2"/>
<rect x="685.5" y="211.4" width="2" height="12" fill="#fff"/>
<path d="M686.5 211.4 L688 212.4 L685 214.4 L688 216.4 L685 218.4 L688 220.4 L685 222.4 L686.5 223.4" fill="none" stroke="#111" stroke-width="1"/>
<rect x="669.5" y="241.5" width="2" height="13" fill="#fff"/>
<path d="M670.5 241.5 L672 242.58 L669 244.75 L672 246.92 L669 249.08 L672 251.25 L669 253.42 L670.5 254.5" fill="none" stroke="#111" stroke-width="1"/>
<rect x="685.5" y="241.5" width="2" height="13" fill="#fff"/>
<path d="M686.5 241.5 L688 242.58 L685 244.75 L688 246.92 L685 249.08 L688 251.25 L685 253.42 L686.5 254.5" fill="none" stroke="#111" stroke-width="1"/>
<polygon points="682.5,263.8 690.5,263.8 686.5,268" fill="#fff" stroke="#111" stroke-width="1.1"/>
<rect x="699.5" y="213.5" width="2" height="2" fill="#fff"/>
<path d="M697 213.5 H704" fill="none" stroke="#111" stroke-width="1.2"/>
<path d="M697 216.5 Q700.5 214.6 704 216.5" fill="none" stroke="#111" stroke-width="1.2"/>
<polygon points="696.5,228 704.5,228 700.5,232.5" fill="#fff" stroke="#111" stroke-width="1.1"/>
<rect x="711.5" y="211.5" width="2" height="2" fill="#fff"/>
<path d="M709 211.5 H716" fill="none" stroke="#111" stroke-width="1.2"/>
<path d="M709 214.5 Q712.5 212.6 716 214.5" fill="none" stroke="#111" stroke-width="1.2"/>
<rect x="729.5" y="212.15" width="2" height="10.5" fill="#fff"/>
<path d="M730.5 212.15 L732 213.03 L729 214.78 L732 216.53 L729 218.28 L732 220.03 L729 221.78 L730.5 222.65" fill="none" stroke="#111" stroke-width="1"/>
<rect x="714.5" y="245.8" width="8" height="4.4" fill="#fff"/>
<polygon points="714.5,250.2 722.5,250.2 718.5,245.8" fill="#fff" stroke="#111" stroke-width="1.1" stroke-linejoin="miter"/>
<path d="M713.3 247.3 L714.5 245.8 L722.5 245.8 L723.7 244.3" fill="none" stroke="#111" stroke-width="1.2"/>
<rect x="715.2" y="264.8" width="6.6" height="4.4" fill="#fff"/>
<polygon points="715.2,264.8 721.8,264.8 718.5,269.2" fill="#fff" stroke="#111" stroke-width="1.1" stroke-linejoin="miter"/>
<path d="M715.2 269.2 L721.8 269.2" fill="none" stroke="#111" stroke-width="1.2"/>
<rect x="473.5" y="221.1" width="2" height="12" fill="#fff"/>
<path d="M474.5 221.1 L476 222.1 L473 224.1 L476 226.1 L473 228.1 L476 230.1 L473 232.1 L474.5 233.1" fill="none" stroke="#111" stroke-width="1"/>
<rect x="473.5" y="254.8" width="2" height="12" fill="#fff"/>
<path d="M474.5 254.8 L476 255.8 L473 257.8 L476 259.8 L473 261.8 L476 263.8 L473 265.8 L474.5 266.8" fill="none" stroke="#111" stroke-width="1"/>
<rect x="496.5" y="276.5" width="2" height="2" fill="#fff"/>
<path d="M496.5 273.7 V281.3" fill="none" stroke="#111" stroke-width="1.2"/>
<path d="M498.5 273.7 V281.3" fill="none" stroke="#111" stroke-width="1.2"/>
<rect x="517.15" y="276.5" width="11.5" height="2" fill="#fff"/>
<path d="M517.15 277.5 L518.3 278.85 L520.6 276.15 L522.9 278.85 L525.2 276.15 L527.5 278.85 L528.65 277.5" fill="none" stroke="#111" stroke-width="1"/>
<rect x="471" y="299.4" width="7" height="4" fill="#fff"/>
<polygon points="471,303.4 478,303.4 474.5,299.4" fill="#fff" stroke="#111" stroke-width="1.1" stroke-linejoin="miter"/>
<path d="M469.8 300.9 L471 299.4 L478 299.4 L479.2 297.9" fill="none" stroke="#111" stroke-width="1.2"/>
<polygon points="470.5,331.5 478.5,331.5 474.5,335.7" fill="#fff" stroke="#111" stroke-width="1.1"/>
<polygon points="541.5,331 549.5,331 545.5,335.2" fill="#fff" stroke="#111" stroke-width="1.1"/>
<rect x="544.5" y="304.9" width="2" height="13" fill="#fff"/>
<path d="M545.5 304.9 L547 305.98 L544 308.15 L547 310.32 L544 312.48 L547 314.65 L544 316.82 L545.5 317.9" fill="none" stroke="#111" stroke-width="1"/>
<rect x="564.5" y="306.95" width="2" height="12.5" fill="#fff"/>
<path d="M565.5 306.95 L567 307.99 L564 310.07 L567 312.16 L564 314.24 L567 316.32 L564 318.41 L565.5 319.45" fill="none" stroke="#111" stroke-width="1"/>
<rect x="672.6" y="288.5" width="12" height="2" fill="#fff"/>
<path d="M672.6 289.5 L673.8 290.85 L676.2 288.15 L678.6 290.85 L681 288.15 L683.4 290.85 L684.6 289.5" fill="none" stroke="#111" stroke-width="1"/>
<rect x="641.5" y="305.5" width="2" height="2" fill="#fff"/>
<path d="M639 305.5 H646" fill="none" stroke="#111" stroke-width="1.2"/>
<path d="M639 307.5 H646" fill="none" stroke="#111" stroke-width="1.2"/>
<rect x="660.5" y="301.5" width="2" height="12" fill="#fff"/>
<path d="M661.5 301.5 L663 302.5 L660 304.5 L663 306.5 L660 308.5 L663 310.5 L660 312.5 L661.5 313.5" fill="none" stroke="#111" stroke-width="1"/>
<polygon points="638.5,332.7 646.5,332.7 642.5,337.2" fill="#fff" stroke="#111" stroke-width="1.1"/>
<polygon points="381.5,274 389.5,274 385.5,278.5" fill="#111" stroke="#111" stroke-width="1.1"/>
<path d="M396.5 254.5 H399.5 L403.8 258 M403.8 256 V264.5 M403.8 263 L399.5 266.5 H396.5" fill="none" stroke="#111" stroke-width="1.3"/>
<path d="M406.5 258 Q405 260.5 406.5 263 M408.5 258 Q407 260.5 408.5 263" fill="none" stroke="#111" stroke-width="0.9"/>
<path d="M416.5 254.5 H424.5 M416.5 254.5 V266.5 H424.5" fill="none" stroke="#111" stroke-width="1.1"/>
<rect x="414" y="258.5" width="5" height="3.6" fill="#fff"/>
<polygon points="414,258.5 419,258.5 416.5,262.1" fill="#fff" stroke="#111" stroke-width="1.1" stroke-linejoin="miter"/>
<path d="M414 262.1 L419 262.1" fill="none" stroke="#111" stroke-width="1.2"/>
<circle cx="401.5" cy="112.5" r="0.7" fill="#111"/>
<rect x="387.5" y="99" width="1" height="1" fill="#555"/>
<rect x="387.5" y="137.5" width="1" height="1" fill="#555"/>
<rect x="387.5" y="148" width="1" height="1" fill="#555"/>
<rect x="387.5" y="165" width="1" height="1" fill="#555"/>
<rect x="427.5" y="87" width="1" height="1" fill="#555"/>
<rect x="427.5" y="126" width="1" height="1" fill="#555"/>
<rect x="427.5" y="173" width="1" height="1" fill="#555"/>
<path d="M553.5 416.5 V436.7 M555.4 430.2 L567.5 418.4 M561.4 430.4 L567.2 436.7 M575 419.3 H588.4 M575 427.3 H588.4 M575 435.6 H588.4 M596.8 425.6 V436.7 M597.3 418.5 L611.2 436.6 M610.7 418.3 V436.7 M622.85 419.7 A7.65 8.1 0 0 0 622.85 435.3 M626.85 419.7 A7.65 8.1 0 0 1 626.85 435.3 M638.5 419.5 H653.2 M646.5 424.3 V436.7 M660.7 436.7 V419.5 H668 C674.6 419.5 674.6 428.5 668 428.5 H661.8 M667.6 429.6 L674.3 436.6 M686.5 419.7 A7.7 8.1 0 0 0 686.5 435.3 M690.5 419.7 A7.7 8.1 0 0 1 690.5 435.3 M703.1 424.3 V436.7 M703.2 418.5 L717.4 436.6 M717.1 418.3 V436.7 M724 419.4 H738.8 M731.5 424.3 V436.7 M745.3 418.4 L752.2 436.5 M761.2 418.4 L756.4 430" fill="none" stroke="#111" stroke-width="2.6"/>
<rect x="51.5" y="52.8" width="2.6" height="1.1" fill="#111"/>
</svg>
<svg id="tx" width="763" height="441" viewBox="0 0 763 441">
<text x="297.6" y="301" font-size="6.3" text-anchor="start" font-weight="bold" letter-spacing="0.06">SPECIFICATION</text>
<text x="297.1" y="312.1" font-size="6.3" text-anchor="start" font-weight="bold" letter-spacing="0.06">INPUT: 90-264V AC</text>
<text x="296.2" y="328.3" font-size="6.3" text-anchor="start" font-weight="bold" letter-spacing="0.06">OUTPUT:</text>
<text x="332" y="328.3" font-size="6.3" text-anchor="start" font-weight="bold" letter-spacing="0.06">+24V/2A</text>
<text x="332" y="340.8" font-size="6.3" text-anchor="start" font-weight="bold" letter-spacing="0.06">+12V/3A</text>
<text x="332" y="351.1" font-size="6.3" text-anchor="start" font-weight="bold" letter-spacing="0.06">+5VSB/0.5A</text>
<text x="232.3" y="134.9" font-size="3.7" text-anchor="start" font-weight="bold" textLength="25.8" lengthAdjust="spacingAndGlyphs">VSEN/SENSE/VS</text>
<text x="232.3" y="141.6" font-size="3.7" text-anchor="start" font-weight="bold" textLength="26.1" lengthAdjust="spacingAndGlyphs">PROTECT/DRIVER</text>
<text x="232.3" y="149.9" font-size="3.7" text-anchor="start" font-weight="bold" textLength="8.5" lengthAdjust="spacingAndGlyphs">CTRL</text>
<text x="251" y="149.9" font-size="3.7" text-anchor="start" font-weight="bold" textLength="7.1" lengthAdjust="spacingAndGlyphs">GND</text>
<text x="232.3" y="158.1" font-size="3.7" text-anchor="start" font-weight="bold" textLength="15.6" lengthAdjust="spacingAndGlyphs">OPT/VER</text>
<text x="251.5" y="158.1" font-size="3.7" text-anchor="start" font-weight="bold" textLength="6.6" lengthAdjust="spacingAndGlyphs">VCC</text>
<text x="241.1" y="124.4" font-size="3" text-anchor="start" font-weight="bold" textLength="6.8" lengthAdjust="spacingAndGlyphs">IC301</text>
<text x="237.4" y="128.8" font-size="3" text-anchor="start" font-weight="bold" textLength="12.1" lengthAdjust="spacingAndGlyphs">TEA1733</text>
<text x="50.2" y="63.2" font-size="3.2" text-anchor="start" font-weight="bold" textLength="5.4" lengthAdjust="spacingAndGlyphs">BD1</text>
<text x="76.9" y="68.2" font-size="3.2" text-anchor="start" font-weight="bold" textLength="6.4" lengthAdjust="spacingAndGlyphs">BD2</text>
<text x="53.3" y="86.3" font-size="3.2" text-anchor="start" font-weight="bold" textLength="6.2" lengthAdjust="spacingAndGlyphs">BD3</text>
<text x="76.9" y="83.2" font-size="3.2" text-anchor="start" font-weight="bold" textLength="6.4" lengthAdjust="spacingAndGlyphs">BD4</text>
<text x="74.4" y="87.7" font-size="3.2" text-anchor="start" font-weight="bold" textLength="7.5" lengthAdjust="spacingAndGlyphs">CX303</text>
<text x="51.3" y="94.1" font-size="3.2" text-anchor="start" font-weight="bold" textLength="7.5" lengthAdjust="spacingAndGlyphs">CX301</text>
<text x="124.3" y="66.9" font-size="3.2" text-anchor="start" font-weight="bold" textLength="7.4" lengthAdjust="spacingAndGlyphs">C319</text>
<text x="149.4" y="66.9" font-size="3.2" text-anchor="start" font-weight="bold" textLength="7.8" lengthAdjust="spacingAndGlyphs">C320</text>
<text x="63.7" y="116.7" font-size="3.2" text-anchor="start" font-weight="bold" textLength="9.6" lengthAdjust="spacingAndGlyphs">LF301</text>
<text x="17.2" y="150.6" font-size="3.2" text-anchor="start" font-weight="bold" textLength="11.8" lengthAdjust="spacingAndGlyphs">VDR301</text>
<text x="106.4" y="150.6" font-size="3.2" text-anchor="start" font-weight="bold" textLength="10.1" lengthAdjust="spacingAndGlyphs">VDR302</text>
<text x="63" y="164.9" font-size="3.2" text-anchor="start" font-weight="bold" textLength="9.5" lengthAdjust="spacingAndGlyphs">CX302</text>
<text x="50.1" y="193.1" font-size="3.2" text-anchor="start" font-weight="bold" textLength="9" lengthAdjust="spacingAndGlyphs">CY301</text>
<text x="75.5" y="191.8" font-size="3.2" text-anchor="start" font-weight="bold" textLength="6.5" lengthAdjust="spacingAndGlyphs">CY302</text>
<text x="65.3" y="239.3" font-size="3.2" text-anchor="start" font-weight="bold" textLength="7.3" lengthAdjust="spacingAndGlyphs">LF302</text>
<text x="116" y="216.7" font-size="3.2" text-anchor="start" font-weight="bold" textLength="7.4" lengthAdjust="spacingAndGlyphs">D301</text>
<text x="134.7" y="216.7" font-size="3.2" text-anchor="start" font-weight="bold" textLength="7.4" lengthAdjust="spacingAndGlyphs">D302</text>
<text x="48.9" y="252.4" font-size="3.2" text-anchor="start" font-weight="bold" textLength="5.7" lengthAdjust="spacingAndGlyphs">R303</text>
<text x="79.8" y="252.4" font-size="3.2" text-anchor="start" font-weight="bold" textLength="5.8" lengthAdjust="spacingAndGlyphs">R304</text>
<text x="48.9" y="267.1" font-size="3.2" text-anchor="start" font-weight="bold" textLength="5.7" lengthAdjust="spacingAndGlyphs">R301</text>
<text x="80.6" y="267.1" font-size="3.2" text-anchor="start" font-weight="bold" textLength="5.7" lengthAdjust="spacingAndGlyphs">R302</text>
<text x="104.6" y="275.1" font-size="3.2" text-anchor="start" font-weight="bold" textLength="6.2" lengthAdjust="spacingAndGlyphs">R305</text>
<text x="64.7" y="284.1" font-size="3.2" text-anchor="start" font-weight="bold" textLength="8.7" lengthAdjust="spacingAndGlyphs">CX301</text>
<text x="66" y="304.3" font-size="3.2" text-anchor="start" font-weight="bold" textLength="7.6" lengthAdjust="spacingAndGlyphs">TH301</text>
<text x="46.4" y="323.3" font-size="3.2" text-anchor="start" font-weight="bold" textLength="8.6" lengthAdjust="spacingAndGlyphs">RV301</text>
<text x="98.3" y="321.9" font-size="3.2" text-anchor="start" font-weight="bold" textLength="5.1" lengthAdjust="spacingAndGlyphs">F301</text>
<text x="98.3" y="330.4" font-size="3.2" text-anchor="start" font-weight="bold" textLength="32.3" lengthAdjust="spacingAndGlyphs">FUSE T4.0A/250VAC</text>
<text x="62.6" y="370" font-size="3.2" text-anchor="start" font-weight="bold" textLength="6.8" lengthAdjust="spacingAndGlyphs">CN301</text>
<text x="26.5" y="247" font-size="3.2" text-anchor="start" font-weight="bold" textLength="2.5" lengthAdjust="spacingAndGlyphs">AC</text>
<text x="96" y="251" font-size="3.2" text-anchor="start" font-weight="bold" textLength="2.5" lengthAdjust="spacingAndGlyphs">AC</text>
<text x="131.8" y="121.7" font-size="3.2" text-anchor="start" font-weight="bold" textLength="6.6" lengthAdjust="spacingAndGlyphs">R302</text>
<text x="150.2" y="121.7" font-size="3.2" text-anchor="start" font-weight="bold" textLength="8.8" lengthAdjust="spacingAndGlyphs">R303A</text>
<text x="169.4" y="122.7" font-size="3.2" text-anchor="start" font-weight="bold" textLength="7.4" lengthAdjust="spacingAndGlyphs">R303</text>
<text x="187.8" y="112.8" font-size="3.2" text-anchor="start" font-weight="bold" textLength="9.6" lengthAdjust="spacingAndGlyphs">R303B</text>
<text x="198.9" y="122.7" font-size="3.2" text-anchor="start" font-weight="bold" textLength="6.6" lengthAdjust="spacingAndGlyphs">R304</text>
<text x="196.7" y="140.1" font-size="3.2" text-anchor="start" font-weight="bold" textLength="7.3" lengthAdjust="spacingAndGlyphs">C303</text>
<text x="171.9" y="154.1" font-size="3.2" text-anchor="start" font-weight="bold" textLength="8.9" lengthAdjust="spacingAndGlyphs">ZD301</text>
<text x="194.5" y="158.6" font-size="3.2" text-anchor="start" font-weight="bold" textLength="7.4" lengthAdjust="spacingAndGlyphs">C302</text>
<text x="209.8" y="188.4" font-size="3.2" text-anchor="start" font-weight="bold" textLength="6.4" lengthAdjust="spacingAndGlyphs">C305</text>
<text x="197.5" y="198" font-size="3.2" text-anchor="start" font-weight="bold" textLength="6.9" lengthAdjust="spacingAndGlyphs">C304</text>
<text x="231.6" y="189.6" font-size="3.2" text-anchor="start" font-weight="bold" textLength="7.2" lengthAdjust="spacingAndGlyphs">R308</text>
<text x="258.8" y="187.5" font-size="3.2" text-anchor="start" font-weight="bold" textLength="7.2" lengthAdjust="spacingAndGlyphs">C307</text>
<text x="317.2" y="50.9" font-size="3.2" text-anchor="start" font-weight="bold" textLength="6.7" lengthAdjust="spacingAndGlyphs">C314</text>
<text x="354" y="51.7" font-size="3.2" text-anchor="start" font-weight="bold" textLength="7.4" lengthAdjust="spacingAndGlyphs">R313</text>
<text x="354.8" y="75.7" font-size="3.2" text-anchor="start" font-weight="bold" textLength="7.4" lengthAdjust="spacingAndGlyphs">D308</text>
<text x="335.4" y="91.9" font-size="3.2" text-anchor="start" font-weight="bold" textLength="6.9" lengthAdjust="spacingAndGlyphs">Q301</text>
<text x="316.5" y="98.8" font-size="3.2" text-anchor="start" font-weight="bold" textLength="7.4" lengthAdjust="spacingAndGlyphs">D309</text>
<text x="292.2" y="115.6" font-size="3.2" text-anchor="start" font-weight="bold" textLength="7.2" lengthAdjust="spacingAndGlyphs">R307</text>
<text x="314.8" y="115.6" font-size="3.2" text-anchor="start" font-weight="bold" textLength="8.2" lengthAdjust="spacingAndGlyphs">R309</text>
<text x="337.5" y="115.6" font-size="3.2" text-anchor="start" font-weight="bold" textLength="8.1" lengthAdjust="spacingAndGlyphs">R310</text>
<text x="336.6" y="126.5" font-size="3.2" text-anchor="start" font-weight="bold" textLength="9.9" lengthAdjust="spacingAndGlyphs">ZD308</text>
<text x="284.9" y="129.8" font-size="3.2" text-anchor="start" font-weight="bold" textLength="7.3" lengthAdjust="spacingAndGlyphs">R311</text>
<text x="305.8" y="129.8" font-size="3.2" text-anchor="start" font-weight="bold" textLength="8.1" lengthAdjust="spacingAndGlyphs">R312</text>
<text x="284.9" y="142.8" font-size="3.2" text-anchor="start" font-weight="bold" textLength="7.3" lengthAdjust="spacingAndGlyphs">C306</text>
<text x="353.8" y="142.8" font-size="3.2" text-anchor="start" font-weight="bold" textLength="8.2" lengthAdjust="spacingAndGlyphs">R315</text>
<text x="339.8" y="149.7" font-size="3.2" text-anchor="start" font-weight="bold" textLength="9.5" lengthAdjust="spacingAndGlyphs">ZD309</text>
<text x="306.7" y="150.7" font-size="3.2" text-anchor="start" font-weight="bold" textLength="6.3" lengthAdjust="spacingAndGlyphs">C305</text>
<text x="297.6" y="177.5" font-size="3.2" text-anchor="start" font-weight="bold" textLength="9.1" lengthAdjust="spacingAndGlyphs">ZD302</text>
<text x="330.2" y="179.6" font-size="3.2" text-anchor="start" font-weight="bold" textLength="9.1" lengthAdjust="spacingAndGlyphs">C308</text>
<text x="335.7" y="164.8" font-size="3.2" text-anchor="start" font-weight="bold" textLength="8.1" lengthAdjust="spacingAndGlyphs">D307</text>
<text x="357.4" y="168.4" font-size="3.2" text-anchor="start" font-weight="bold" textLength="7.3" lengthAdjust="spacingAndGlyphs">R316</text>
<text x="401.2" y="79.5" font-size="3.2" text-anchor="start" font-weight="bold" textLength="7.2" lengthAdjust="spacingAndGlyphs">T301</text>
<text x="454" y="32" font-size="3.2" text-anchor="start" font-weight="bold" textLength="7.3" lengthAdjust="spacingAndGlyphs">C301</text>
<text x="489.4" y="48.9" font-size="3.2" text-anchor="start" font-weight="bold" textLength="6.3" lengthAdjust="spacingAndGlyphs">R301</text>
<text x="452.2" y="62.5" font-size="3.2" text-anchor="start" font-weight="bold" textLength="6.4" lengthAdjust="spacingAndGlyphs">D301</text>
<text x="489.4" y="69.7" font-size="3.2" text-anchor="start" font-weight="bold" textLength="7.2" lengthAdjust="spacingAndGlyphs">C302</text>
<text x="524.7" y="69.7" font-size="3.2" text-anchor="start" font-weight="bold" textLength="7.3" lengthAdjust="spacingAndGlyphs">C303</text>
<text x="532.9" y="57.4" font-size="3.2" text-anchor="start" font-weight="bold" textLength="6.3" lengthAdjust="spacingAndGlyphs">L301</text>
<text x="559.4" y="69.8" font-size="3.2" text-anchor="start" font-weight="bold" textLength="8.2" lengthAdjust="spacingAndGlyphs">C304</text>
<text x="461.4" y="93.8" font-size="3.2" text-anchor="start" font-weight="bold" textLength="7.2" lengthAdjust="spacingAndGlyphs">C305</text>
<text x="482" y="113.8" font-size="3.2" text-anchor="start" font-weight="bold" textLength="7.8" lengthAdjust="spacingAndGlyphs">R305</text>
<text x="453.6" y="122.5" font-size="3.2" text-anchor="start" font-weight="bold" textLength="7.2" lengthAdjust="spacingAndGlyphs">D302</text>
<text x="504.9" y="117.4" font-size="3.2" text-anchor="start" font-weight="bold" textLength="6.7" lengthAdjust="spacingAndGlyphs">L302</text>
<text x="508" y="107.6" font-size="3.2" text-anchor="start" font-weight="bold" textLength="6.3" lengthAdjust="spacingAndGlyphs">R306</text>
<text x="521.2" y="107" font-size="3.2" text-anchor="start" font-weight="bold" textLength="7.6" lengthAdjust="spacingAndGlyphs">C306</text>
<text x="482" y="135.5" font-size="3.2" text-anchor="start" font-weight="bold" textLength="7.3" lengthAdjust="spacingAndGlyphs">C308</text>
<text x="497.6" y="135.5" font-size="3.2" text-anchor="start" font-weight="bold" textLength="7.7" lengthAdjust="spacingAndGlyphs">C310</text>
<text x="525.2" y="136.6" font-size="3.2" text-anchor="start" font-weight="bold" textLength="6.3" lengthAdjust="spacingAndGlyphs">C311</text>
<text x="551.5" y="113" font-size="3.2" text-anchor="start" font-weight="bold" textLength="7.2" lengthAdjust="spacingAndGlyphs">R30X</text>
<text x="560.3" y="103.7" font-size="3.2" text-anchor="start" font-weight="bold" textLength="7.3" lengthAdjust="spacingAndGlyphs">R303</text>
<text x="584.8" y="102.4" font-size="3.2" text-anchor="start" font-weight="bold" textLength="7.2" lengthAdjust="spacingAndGlyphs">R304</text>
<text x="574.8" y="80.7" font-size="3.2" text-anchor="start" font-weight="bold" textLength="6.9" lengthAdjust="spacingAndGlyphs">Q301</text>
<text x="589.7" y="83.4" font-size="3.2" text-anchor="start" font-weight="bold" textLength="6.5" lengthAdjust="spacingAndGlyphs">C307</text>
<text x="584.8" y="89.7" font-size="3.2" text-anchor="start" font-weight="bold" textLength="6.3" lengthAdjust="spacingAndGlyphs">AUX</text>
<text x="613.8" y="86.1" font-size="3.2" text-anchor="start" font-weight="bold" textLength="8.2" lengthAdjust="spacingAndGlyphs">C308</text>
<text x="621" y="100.6" font-size="3.2" text-anchor="start" font-weight="bold" textLength="7.3" lengthAdjust="spacingAndGlyphs">R307</text>
<text x="577.5" y="130.5" font-size="3.2" text-anchor="start" font-weight="bold" textLength="7.3" lengthAdjust="spacingAndGlyphs">C312</text>
<text x="626.5" y="130.5" font-size="3.2" text-anchor="start" font-weight="bold" textLength="6.3" lengthAdjust="spacingAndGlyphs">C314</text>
<text x="596.5" y="133.2" font-size="3.2" text-anchor="start" font-weight="bold" textLength="7" lengthAdjust="spacingAndGlyphs">Q303</text>
<text x="596.5" y="137.7" font-size="3.2" text-anchor="start" font-weight="bold" textLength="7" lengthAdjust="spacingAndGlyphs">PMOS</text>
<text x="733.5" y="58.1" font-size="3.2" text-anchor="start" font-weight="bold" textLength="10.9" lengthAdjust="spacingAndGlyphs">+24VDC</text>
<text x="667.5" y="72.5" font-size="3.2" text-anchor="start" font-weight="bold" textLength="6.3" lengthAdjust="spacingAndGlyphs">R321</text>
<text x="682.3" y="71.9" font-size="3.2" text-anchor="start" font-weight="bold" textLength="6.9" lengthAdjust="spacingAndGlyphs">R322</text>
<text x="709.9" y="75.3" font-size="3.2" text-anchor="start" font-weight="bold" textLength="6.9" lengthAdjust="spacingAndGlyphs">Q302</text>
<text x="709.9" y="78.8" font-size="3.2" text-anchor="start" font-weight="bold" textLength="5.6" lengthAdjust="spacingAndGlyphs">PNP</text>
<text x="709.9" y="89.7" font-size="3.2" text-anchor="start" font-weight="bold" textLength="6.9" lengthAdjust="spacingAndGlyphs">Q303</text>
<text x="709.9" y="93" font-size="3.2" text-anchor="start" font-weight="bold" textLength="5.6" lengthAdjust="spacingAndGlyphs">PNP</text>
<text x="682.3" y="95.6" font-size="3.2" text-anchor="start" font-weight="bold" textLength="6.9" lengthAdjust="spacingAndGlyphs">R323</text>
<text x="728.6" y="102.9" font-size="3.2" text-anchor="start" font-weight="bold" textLength="7.9" lengthAdjust="spacingAndGlyphs">R324</text>
<text x="684.2" y="114.3" font-size="3.2" text-anchor="start" font-weight="bold" textLength="9.9" lengthAdjust="spacingAndGlyphs">ZD301</text>
<text x="647.8" y="90.6" font-size="3.2" text-anchor="start" font-weight="bold" textLength="9.8" lengthAdjust="spacingAndGlyphs">PS_ON</text>
<text x="733.5" y="117.3" font-size="3.2" text-anchor="start" font-weight="bold" textLength="10.9" lengthAdjust="spacingAndGlyphs">+12VDC</text>
<text x="673.5" y="135.3" font-size="3.2" text-anchor="start" font-weight="bold" textLength="9.1" lengthAdjust="spacingAndGlyphs">ZD303</text>
<text x="727.9" y="135.7" font-size="3.2" text-anchor="start" font-weight="bold" textLength="7.3" lengthAdjust="spacingAndGlyphs">R325</text>
<text x="675.3" y="155.6" font-size="3.2" text-anchor="start" font-weight="bold" textLength="7.3" lengthAdjust="spacingAndGlyphs">D303</text>
<text x="729.7" y="153.8" font-size="3.2" text-anchor="start" font-weight="bold" textLength="9.1" lengthAdjust="spacingAndGlyphs">ZD304</text>
<text x="730.6" y="170.5" font-size="3.2" text-anchor="start" font-weight="bold" textLength="7.3" lengthAdjust="spacingAndGlyphs">D304</text>
<text x="641.8" y="158.9" font-size="3.2" text-anchor="start" font-weight="bold" textLength="7.3" lengthAdjust="spacingAndGlyphs">C309</text>
<text x="656" y="175.2" font-size="3.2" text-anchor="start" font-weight="bold" textLength="7.6" lengthAdjust="spacingAndGlyphs">R317</text>
<text x="662.7" y="193.7" font-size="3.2" text-anchor="start" font-weight="bold" textLength="6.3" lengthAdjust="spacingAndGlyphs">L303</text>
<text x="734.3" y="194.6" font-size="3.2" text-anchor="start" font-weight="bold" textLength="14.1" lengthAdjust="spacingAndGlyphs">+3.3VSB</text>
<text x="591.6" y="200" font-size="3.2" text-anchor="start" font-weight="bold" textLength="8.9" lengthAdjust="spacingAndGlyphs">R315</text>
<text x="551.2" y="231.6" font-size="3.2" text-anchor="start" font-weight="bold" textLength="7.1" lengthAdjust="spacingAndGlyphs">C307</text>
<text x="567.1" y="231" font-size="3.2" text-anchor="start" font-weight="bold" textLength="7.7" lengthAdjust="spacingAndGlyphs">C308</text>
<text x="656.5" y="211.8" font-size="3.2" text-anchor="start" font-weight="bold" textLength="7.4" lengthAdjust="spacingAndGlyphs">C302</text>
<text x="675.1" y="213.3" font-size="3.2" text-anchor="start" font-weight="bold" textLength="8" lengthAdjust="spacingAndGlyphs">R311</text>
<text x="653.6" y="247.2" font-size="3.2" text-anchor="start" font-weight="bold" textLength="10.3" lengthAdjust="spacingAndGlyphs">R308A</text>
<text x="675.1" y="247.2" font-size="3.2" text-anchor="start" font-weight="bold" textLength="8" lengthAdjust="spacingAndGlyphs">R309</text>
<text x="702.8" y="207.4" font-size="3.2" text-anchor="start" font-weight="bold" textLength="7.7" lengthAdjust="spacingAndGlyphs">C321</text>
<text x="717" y="208.3" font-size="3.2" text-anchor="start" font-weight="bold" textLength="8.2" lengthAdjust="spacingAndGlyphs">C322</text>
<text x="734.7" y="217.7" font-size="3.2" text-anchor="start" font-weight="bold" textLength="7.4" lengthAdjust="spacingAndGlyphs">R312</text>
<text x="724.4" y="247.2" font-size="3.2" text-anchor="start" font-weight="bold" textLength="9.7" lengthAdjust="spacingAndGlyphs">ZD305</text>
<text x="724.4" y="266.4" font-size="3.2" text-anchor="start" font-weight="bold" textLength="7.3" lengthAdjust="spacingAndGlyphs">D305</text>
<text x="627" y="283.2" font-size="3.2" text-anchor="start" font-weight="bold" textLength="7.4" lengthAdjust="spacingAndGlyphs">Q305</text>
<text x="672.7" y="285" font-size="3.2" text-anchor="start" font-weight="bold" textLength="8.9" lengthAdjust="spacingAndGlyphs">R327</text>
<text x="628.5" y="295" font-size="3.2" text-anchor="start" font-weight="bold" textLength="6.5" lengthAdjust="spacingAndGlyphs">430L</text>
<text x="647.7" y="302.7" font-size="3.2" text-anchor="start" font-weight="bold" textLength="7.3" lengthAdjust="spacingAndGlyphs">C326</text>
<text x="667.4" y="303.9" font-size="3.2" text-anchor="start" font-weight="bold" textLength="8.3" lengthAdjust="spacingAndGlyphs">R324</text>
<text x="548.8" y="310.7" font-size="3.2" text-anchor="start" font-weight="bold" textLength="5.9" lengthAdjust="spacingAndGlyphs">R319</text>
<text x="567.1" y="312.2" font-size="3.2" text-anchor="start" font-weight="bold" textLength="9.8" lengthAdjust="spacingAndGlyphs">R319A</text>
<text x="620.2" y="183.9" font-size="3.2" text-anchor="start" font-weight="bold" textLength="7.2" lengthAdjust="spacingAndGlyphs">Q301</text>
<text x="634.3" y="190.8" font-size="3.2" text-anchor="start" font-weight="bold" textLength="5.8" lengthAdjust="spacingAndGlyphs">EXT</text>
<text x="634.3" y="198.7" font-size="3.2" text-anchor="start" font-weight="bold" textLength="4.2" lengthAdjust="spacingAndGlyphs">SW</text>
<text x="634.3" y="203.2" font-size="3.2" text-anchor="start" font-weight="bold" textLength="4.2" lengthAdjust="spacingAndGlyphs">FB</text>
<text x="612" y="190.8" font-size="3.2" text-anchor="start" font-weight="bold" textLength="3.7" lengthAdjust="spacingAndGlyphs">Vin</text>
<text x="610.8" y="203.5" font-size="3.2" text-anchor="start" font-weight="bold" textLength="4" lengthAdjust="spacingAndGlyphs">EN</text>
<text x="546.8" y="187.9" font-size="3.2" text-anchor="start" font-weight="bold" textLength="6.3" lengthAdjust="spacingAndGlyphs">R318</text>
<text x="495.1" y="271.9" font-size="3.2" text-anchor="start" font-weight="bold" textLength="6.9" lengthAdjust="spacingAndGlyphs">C305</text>
<text x="519.4" y="274" font-size="3.2" text-anchor="start" font-weight="bold" textLength="7.3" lengthAdjust="spacingAndGlyphs">R316</text>
<text x="480" y="298.8" font-size="3.2" text-anchor="start" font-weight="bold" textLength="8.1" lengthAdjust="spacingAndGlyphs">Q304</text>
<text x="478.7" y="305" font-size="3.2" text-anchor="start" font-weight="bold" textLength="8.5" lengthAdjust="spacingAndGlyphs">TL431</text>
<text x="407.4" y="246.1" font-size="3.2" text-anchor="start" font-weight="bold" textLength="8" lengthAdjust="spacingAndGlyphs">OC301</text>
<text x="402.9" y="250.6" font-size="3.2" text-anchor="start" font-weight="bold" textLength="13.2" lengthAdjust="spacingAndGlyphs">PC817C</text>
<text x="399.9" y="193.2" font-size="3.2" text-anchor="start" font-weight="bold" textLength="11.2" lengthAdjust="spacingAndGlyphs">CY303</text>
<text transform="translate(29.2 126.5) rotate(-90)" font-size="3.3" font-weight="normal" textLength="7.3" lengthAdjust="spacingAndGlyphs">R301</text>
<text transform="translate(98.1 126) rotate(-90)" font-size="3.3" font-weight="normal" textLength="8" lengthAdjust="spacingAndGlyphs">R302</text>
<text transform="translate(469.8 232.5) rotate(-90)" font-size="3.3" font-weight="normal" textLength="8.5" lengthAdjust="spacingAndGlyphs">R317</text>
<text transform="translate(469.2 264.5) rotate(-90)" font-size="3.3" font-weight="normal" textLength="8.5" lengthAdjust="spacingAndGlyphs">R319</text>
<text transform="translate(624.8 203) rotate(-90)" font-size="3.3" font-weight="normal" textLength="13" lengthAdjust="spacingAndGlyphs">1084B</text>
<text transform="translate(623.8 216) rotate(-90)" font-size="3.3" font-weight="normal" textLength="8" lengthAdjust="spacingAndGlyphs">GND</text>
<text x="226.8" y="133.2" font-size="2.6" text-anchor="start" font-weight="bold">1</text>
<text x="262.6" y="133.2" font-size="2.6" text-anchor="start" font-weight="bold">8</text>
<text x="226.8" y="140.5" font-size="2.6" text-anchor="start" font-weight="bold">2</text>
<text x="262.6" y="140.5" font-size="2.6" text-anchor="start" font-weight="bold">7</text>
<text x="226.8" y="148.1" font-size="2.6" text-anchor="start" font-weight="bold">3</text>
<text x="262.6" y="148.1" font-size="2.6" text-anchor="start" font-weight="bold">6</text>
<text x="226.8" y="155.7" font-size="2.6" text-anchor="start" font-weight="bold">4</text>
<text x="262.6" y="155.7" font-size="2.6" text-anchor="start" font-weight="bold">5</text>
<text x="393.2" y="253.6" font-size="2.6" text-anchor="start" font-weight="bold">1</text>
<text x="393.2" y="265.4" font-size="2.6" text-anchor="start" font-weight="bold">2</text>
<text x="426" y="253.6" font-size="2.6" text-anchor="start" font-weight="bold">4</text>
<text x="426" y="265.4" font-size="2.6" text-anchor="start" font-weight="bold">3</text>
</svg>
</div></body></html>
